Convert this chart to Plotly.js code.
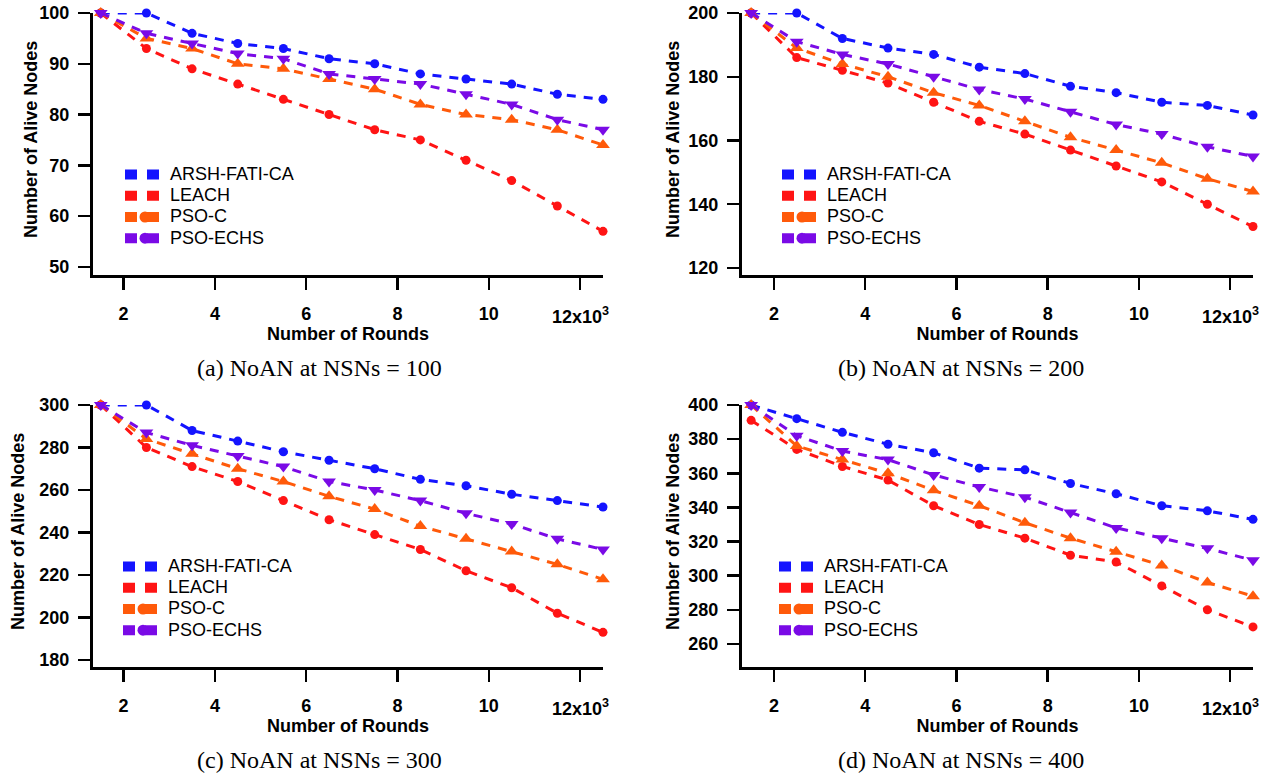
<!DOCTYPE html>
<html><head><meta charset="utf-8">
<script src="https://cdn.plot.ly/plotly-3.0.1.min.js"></script>
<style>html,body{margin:0;padding:0;background:#fff}#chart{width:1263px;height:778px}</style>
</head><body><div id="chart"></div>
<script>
// Number of rounds (x10^3)
const rounds = [1.5, 2.5, 3.5, 4.5, 5.5, 6.5, 7.5, 8.5, 9.5, 10.5, 11.5, 12.5];
const seriesNames = ['ARSH-FATI-CA', 'LEACH', 'PSO-C', 'PSO-ECHS'];
const xTickVals = [2, 4, 6, 8, 10];
const xLastTick = 12;
const xLastTickLabel = '12x10<sup>3</sup>';
const xTitle = 'Number of Rounds';
const yTitle = 'Number of Alive Nodes';

// (a) NSNs = 100
const nsn100_arsh  = [100, 100, 96, 94, 93, 91, 90, 88, 87, 86, 84, 83];
const nsn100_leach = [100, 93, 89, 86, 83, 80, 77, 75, 71, 67, 62, 57];
const nsn100_psoc  = [100, 95, 93, 90, 89, 87, 85, 82, 80, 79, 77, 74];
const nsn100_echs  = [100, 96, 94, 92, 91, 88, 87, 86, 84, 82, 79, 77];
// (b) NSNs = 200
const nsn200_arsh  = [200, 200, 192, 189, 187, 183, 181, 177, 175, 172, 171, 168];
const nsn200_leach = [200, 186, 182, 178, 172, 166, 162, 157, 152, 147, 140, 133];
const nsn200_psoc  = [200, 189, 184, 180, 175, 171, 166, 161, 157, 153, 148, 144];
const nsn200_echs  = [200, 191, 187, 184, 180, 176, 173, 169, 165, 162, 158, 155];
// (c) NSNs = 300
const nsn300_arsh  = [300, 300, 288, 283, 278, 274, 270, 265, 262, 258, 255, 252];
const nsn300_leach = [300, 280, 271, 264, 255, 246, 239, 232, 222, 214, 202, 193];
const nsn300_psoc  = [300, 284, 277, 270, 264, 257, 251, 243, 237, 231, 225, 218];
const nsn300_echs  = [300, 287, 281, 276, 271, 264, 260, 255, 249, 244, 237, 232];
// (d) NSNs = 400
const nsn400_arsh  = [400, 392, 384, 377, 372, 363, 362, 354, 348, 341, 338, 333];
const nsn400_leach = [391, 374, 364, 356, 341, 330, 322, 312, 308, 294, 280, 270];
const nsn400_psoc  = [400, 376, 368, 360, 350, 341, 331, 322, 314, 306, 296, 288];
const nsn400_echs  = [400, 382, 373, 368, 359, 352, 346, 337, 328, 322, 316, 309];

const captions = ['(a) NoAN at NSNs = 100', '(b) NoAN at NSNs = 200', '(c) NoAN at NSNs = 300', '(d) NoAN at NSNs = 400'];
const yTickVals = [
  [50, 60, 70, 80, 90, 100],
  [120, 140, 160, 180, 200],
  [180, 200, 220, 240, 260, 280, 300],
  [260, 280, 300, 320, 340, 360, 380, 400]
];

const panelData = [
  [nsn100_arsh, nsn100_leach, nsn100_psoc, nsn100_echs],
  [nsn200_arsh, nsn200_leach, nsn200_psoc, nsn200_echs],
  [nsn300_arsh, nsn300_leach, nsn300_psoc, nsn300_echs],
  [nsn400_arsh, nsn400_leach, nsn400_psoc, nsn400_echs]
];

// ---- styling / layout ----
const W = 1263, H = 778;
const px = v => v / W, py = v => 1 - v / H;
const colors = ['#1414ff', '#ff1414', '#ff5a0a', '#7a0ae6'];
const symbols = ['circle', 'circle', 'triangle-up', 'triangle-down'];
const msize = [9, 9, 12, 12];
const sans = 'Liberation Sans, Arial, sans-serif';
const serif = 'Liberation Serif, Times New Roman, serif';
const boldFont = {family: sans, size: 18, weight: 'bold', color: '#000'};

const panels = [
  {xd: [93, 603], yd: [275, 13], xr: [1.33, 12.5], yr: [48.4, 100], leg: [120, 159], yt: [31, 140], cap: [320, 368]},
  {xd: [742, 1253], yd: [275, 13], xr: [1.3, 12.5], yr: [117.8, 200], leg: [777, 159], yt: [673, 140], cap: [961, 368]},
  {xd: [93, 603], yd: [667, 405], xr: [1.33, 12.5], yr: [176.7, 300], leg: [118, 551], yt: [18, 532], cap: [320, 760]},
  {xd: [742, 1253], yd: [667, 405], xr: [1.3, 12.5], yr: [246.5, 400], leg: [774, 551], yt: [673, 532], cap: [961, 760]}
];

const traces = [];
const layout = {
  width: W, height: H,
  margin: {l: 0, r: 0, t: 0, b: 0},
  paper_bgcolor: '#fff', plot_bgcolor: '#fff',
  font: {family: sans, color: '#000'},
  showlegend: true,
  annotations: []
};

panels.forEach((p, i) => {
  const sfx = i === 0 ? '' : String(i + 1);
  const legName = 'legend' + sfx;
  panelData[i].forEach((vals, j) => {
    traces.push({
      x: rounds, y: vals, xaxis: 'x' + sfx, yaxis: 'y' + sfx,
      type: 'scatter', mode: 'lines+markers', name: seriesNames[j],
      line: {color: colors[j], width: 3, dash: '9px,8px'},
      marker: {color: colors[j], symbol: symbols[j], size: msize[j]},
      showlegend: false, cliponaxis: false
    });
  });
  // legend entries (styled like the reference legend)
  seriesNames.forEach((nm, j) => {
    traces.push({
      x: [null], y: [null], xaxis: 'x' + sfx, yaxis: 'y' + sfx,
      type: 'scatter', mode: j < 2 ? 'lines' : 'lines+markers',
      name: '<span style="font-size:18px">' + nm + '</span>',
      line: {color: colors[j], width: 10, dash: '12px,10px'},
      marker: {color: colors[j], symbol: 'circle', size: 11},
      showlegend: true, legend: legName
    });
  });
  const axCommon = {
    showline: true, linewidth: 3, linecolor: '#000', mirror: false,
    ticks: 'outside', ticklen: 12, tickwidth: 2.5, tickcolor: '#000',
    showgrid: false, zeroline: false, tickfont: boldFont
  };
  layout['xaxis' + sfx] = Object.assign({}, axCommon, {
    domain: [px(p.xd[0]), px(p.xd[1])], range: p.xr, anchor: 'y' + sfx,
    tickmode: 'array', tickvals: xTickVals, ticklabelstandoff: 8,
    minor: {tickmode: 'array', tickvals: [xLastTick], ticks: 'outside', ticklen: 12, tickwidth: 2.5, tickcolor: '#000', showgrid: false},
    title: {text: xTitle, font: boldFont, standoff: 1}
  });
  layout['yaxis' + sfx] = Object.assign({}, axCommon, {
    domain: [py(p.yd[0]), py(p.yd[1])], range: p.yr, anchor: 'x' + sfx,
    tickmode: 'array', tickvals: yTickVals[i], ticklabelstandoff: 5
  });
  layout[legName] = {
    x: px(p.leg[0]), y: py(p.leg[1]), xanchor: 'left', yanchor: 'top',
    bgcolor: 'rgba(0,0,0,0)', borderwidth: 0, itemwidth: 40,
    font: {family: sans, size: 14, color: '#000'}, tracegroupgap: 0
  };
  // y-axis title
  layout.annotations.push({
    xref: 'paper', yref: 'paper', x: px(p.yt[0]), y: py(p.yt[1]), xanchor: 'center', yanchor: 'middle',
    text: yTitle, textangle: -90, showarrow: false, font: boldFont
  });
  // last x tick label (offset like the reference)
  layout.annotations.push({
    xref: 'x' + sfx, yref: 'paper', x: xLastTick, y: py(p.yd[0] + 40), xanchor: 'center', yanchor: 'middle',
    text: xLastTickLabel, showarrow: false, font: boldFont
  });
  layout.annotations.push({
    xref: 'paper', yref: 'paper', x: px(p.cap[0]), y: py(p.cap[1]),
    xanchor: 'center', yanchor: 'middle', text: captions[i], showarrow: false,
    font: {family: serif, size: 24, color: '#000'}
  });
});

Plotly.newPlot('chart', traces, layout, {displayModeBar: false, staticPlot: true});
</script>
</body></html>
